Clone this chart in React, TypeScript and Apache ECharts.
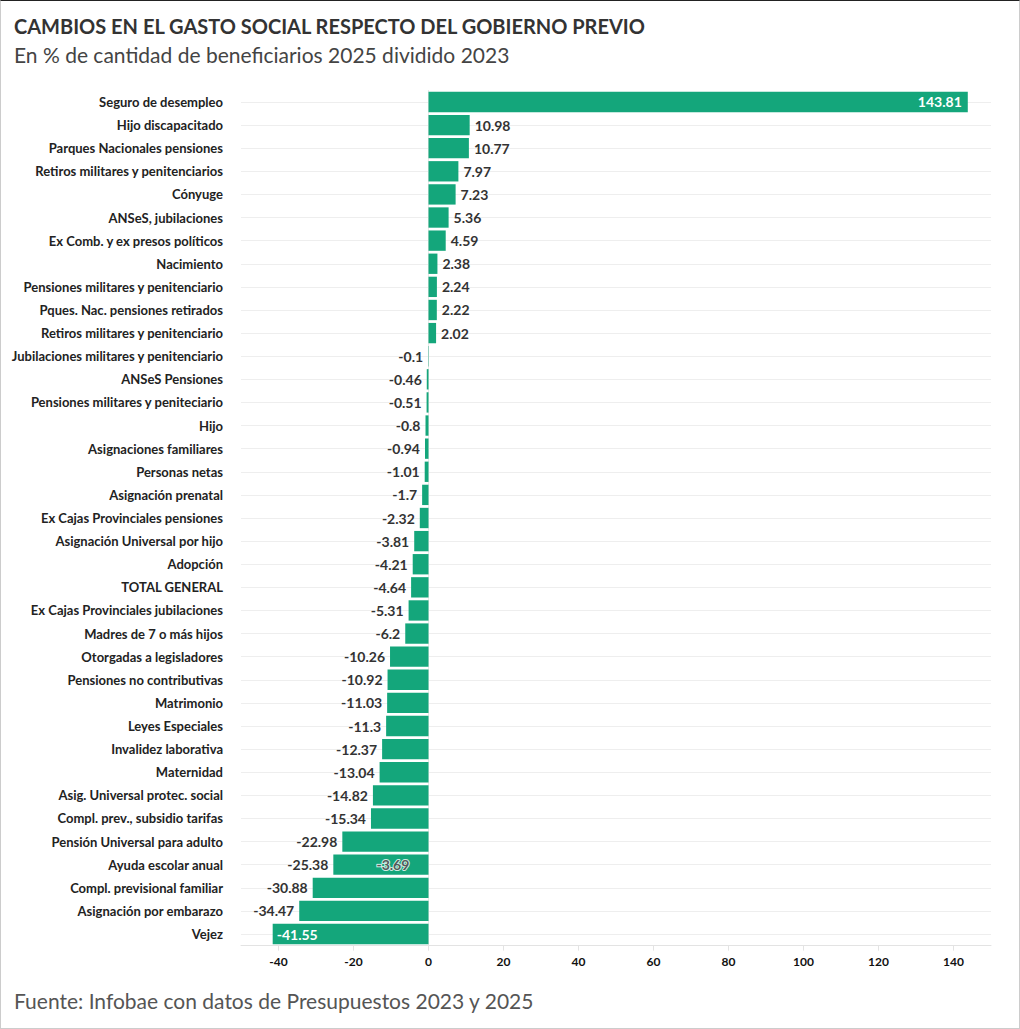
import React, { useEffect, useRef } from "react";
import * as echarts from "echarts";

const categories = [
  "Seguro de desempleo",
  "Hijo discapacitado",
  "Parques Nacionales pensiones",
  "Retiros militares y penitenciarios",
  "Cónyuge",
  "ANSeS, jubilaciones",
  "Ex Comb. y ex presos políticos",
  "Nacimiento",
  "Pensiones militares y penitenciario",
  "Pques. Nac. pensiones retirados",
  "Retiros militares y penitenciario",
  "Jubilaciones militares y penitenciario",
  "ANSeS Pensiones",
  "Pensiones militares y peniteciario",
  "Hijo",
  "Asignaciones familiares",
  "Personas netas",
  "Asignación prenatal",
  "Ex Cajas Provinciales pensiones",
  "Asignación Universal por hijo",
  "Adopción",
  "TOTAL GENERAL",
  "Ex Cajas Provinciales jubilaciones",
  "Madres de 7 o más hijos",
  "Otorgadas a legisladores",
  "Pensiones no contributivas",
  "Matrimonio",
  "Leyes Especiales",
  "Invalidez laborativa",
  "Maternidad",
  "Asig. Universal protec. social",
  "Compl. prev., subsidio tarifas",
  "Pensión Universal para adulto",
  "Ayuda escolar anual",
  "Compl. previsional familiar",
  "Asignación por embarazo",
  "Vejez",
];

const values = [
  143.81, 10.98, 10.77, 7.97, 7.23, 5.36, 4.59, 2.38, 2.24, 2.22, 2.02,
  -0.1, -0.46, -0.51, -0.8, -0.94, -1.01, -1.7, -2.32, -3.81, -4.21, -4.64,
  -5.31, -6.2, -10.26, -10.92, -11.03, -11.3, -12.37, -13.04, -14.82, -15.34,
  -22.98, -25.38, -30.88, -34.47, -41.55,
];

const xTickLabels = [-40, -20, 0, 20, 40, 60, 80, 100, 120, 140];

// stray annotation that appears over the "Ayuda escolar anual" bar
const strayNote = { category: "Ayuda escolar anual", value: -9.5, text: "-3.69" };

const FONT = "Lato, 'Noto Sans', sans-serif";
const GREEN = "#14a67b";

export default function App() {
  const ref = useRef<HTMLDivElement>(null);

  useEffect(() => {
    document.body.style.margin = "0";
    const chart = echarts.init(ref.current!, undefined, { renderer: "svg" });
    const maxV = Math.max(...values);
    const minV = Math.min(...values);
    const data = values.map((v) => {
      let label: any;
      if (v === maxV) {
        label = { position: "insideRight", color: "#fff", distance: 6 };
      } else if (v === minV) {
        label = { position: "insideLeft", color: "#fff", distance: 4 };
      } else if (v >= 0) {
        label = { position: "right", distance: 5 };
      } else {
        label = { position: "left", distance: 5 };
      }
      return { value: v, label };
    });

    chart.setOption({
      animation: false,
      backgroundColor: "#fff",
      textStyle: { fontFamily: FONT },
      title: [
        {
          text: "CAMBIOS EN EL GASTO SOCIAL RESPECTO DEL GOBIERNO PREVIO",
          left: 8,
          top: 10,
          textStyle: { fontFamily: FONT, fontSize: 20, fontWeight: "bold", color: "#333" },
        },
        {
          text: "En % de cantidad de beneficiarios 2025 dividido 2023",
          left: 8,
          top: 38,
          textStyle: { fontFamily: FONT, fontSize: 21, fontWeight: "normal", color: "#444" },
        },
        {
          text: "Fuente: Infobae con datos de Presupuestos 2023 y 2025",
          left: 8,
          top: 984,
          textStyle: { fontFamily: FONT, fontSize: 21, fontWeight: "normal", color: "#555" },
        },
      ],
      grid: { left: 240, right: 28, top: 89.4, bottom: 82.4, containLabel: false },
      xAxis: {
        type: "value",
        min: -50,
        max: 150,
        axisLine: { show: true, onZero: false, lineStyle: { color: "#e3e3e3" } },
        axisTick: { show: true, customValues: xTickLabels, length: 5, lineStyle: { color: "#e3e3e3" } },
        axisLabel: {
          customValues: xTickLabels,
          fontFamily: FONT,
          fontSize: 12,
          fontWeight: "bold",
          color: "#111",
          margin: 10,
        },
        splitLine: { show: false },
      },
      yAxis: {
        type: "category",
        data: categories,
        inverse: true,
        axisLine: { show: true, lineStyle: { color: "#e8e8e8" } },
        axisTick: { show: true, alignWithLabel: true, length: 8, lineStyle: { color: "#eeeeee" } },
        splitLine: { show: true, alignWithLabel: true, lineStyle: { color: "#eeeeee" } },
        axisLabel: {
          fontFamily: FONT,
          fontSize: 13,
          fontWeight: "bold",
          color: "#222",
          margin: 18,
        },
      },
      series: [
        {
          type: "bar",
          data,
          barCategoryGap: "12%",
          itemStyle: { color: GREEN },
          label: {
            show: true,
            fontFamily: FONT,
            fontSize: 14,
            fontWeight: "bold",
            color: "#333",
            formatter: (p: any) => String(p.value),
          },
          silent: true,
        },
        {
          type: "scatter",
          data: [[strayNote.value, strayNote.category]],
          symbolSize: 0,
          silent: true,
          label: {
            show: true,
            position: "inside",
            formatter: strayNote.text,
            fontFamily: FONT,
            fontSize: 14,
            fontWeight: "bold",
            color: "#333",
            textBorderColor: "#fff",
            textBorderWidth: 2,
          },
        },
      ],
    });
    return () => chart.dispose();
  }, []);

  return (
    <div
      style={{
        position: "absolute",
        left: 0,
        top: 0,
        width: 1020,
        height: 1029,
        boxSizing: "border-box",
        borderTop: "1px solid #222",
        borderLeft: "1px solid #ccc",
        borderRight: "1px solid #ccc",
        borderBottom: "1px solid #ccc",
      }}
    >
      <div ref={ref} style={{ width: 1018, height: 1027 }} />
    </div>
  );
}
